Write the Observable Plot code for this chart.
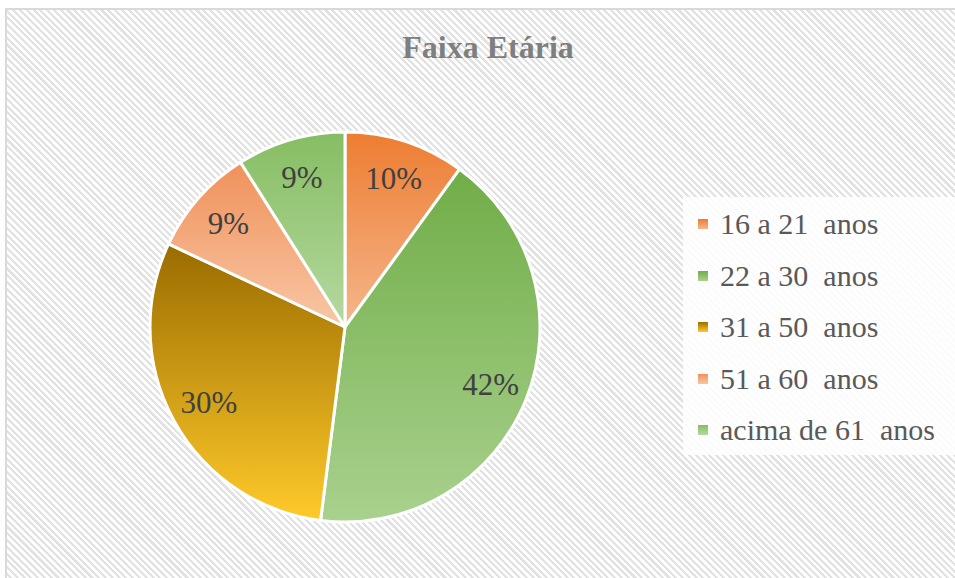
<!DOCTYPE html>
<html><head><meta charset="utf-8">
<script src="https://cdn.jsdelivr.net/npm/d3@7"></script>
<script src="https://cdn.jsdelivr.net/npm/@observablehq/plot@0.6"></script>
<style>
html,body{margin:0;padding:0;background:#fff;overflow:hidden;width:955px;height:578px;}
#frame{position:absolute;left:5px;top:8px;width:960px;height:580px;border:2px solid #d9d9d9;box-sizing:border-box;
  background:repeating-linear-gradient(45deg,#ffffff 0px,#ffffff 2.6px,#e2e2e2 2.6px,#e2e2e2 4.8px);}
#title{position:absolute;left:288px;width:400px;top:31px;text-align:center;font-weight:bold;font-size:32px;
  font-family:'Liberation Serif','Times New Roman',serif;line-height:32px;color:#7f7f7f;}
#chart{position:absolute;left:0;top:0;}
#legend{position:absolute;left:683px;top:197px;width:280px;height:258px;background:rgba(255,255,255,0.85);padding-top:1.5px;box-sizing:border-box;}
.row{height:51.5px;display:flex;align-items:center;font-size:30px;font-family:'Liberation Serif','Times New Roman',serif;color:#595959;white-space:pre;}
.sw{width:10px;height:10px;margin-left:15px;margin-right:12px;flex:none;}
</style></head>
<body>
<div id="frame"></div>
<div id="chart"></div>
<div id="title"></div>
<div id="legend"></div>
<script>
const title = "Faixa Etária";
const categories = ["16 a 21  anos", "22 a 30  anos", "31 a 50  anos", "51 a 60  anos", "acima de 61  anos"];
const values = [10, 42, 30, 9, 9];
const colorsTop = ["#ED7D31", "#70AD47", "#9A6C00", "#F0915A", "#86BD62"];
const colorsBottom = ["#F5B68C", "#A9D18E", "#FFCA2A", "#F8C7A6", "#B5D9A0"];

document.getElementById("title").textContent = title;

const slices = d3.pie().sort(null).startAngle(0).endAngle(2 * Math.PI)(values)
  .map((a, i) => ({...a, name: categories[i], i, mid: (a.startAngle + a.endAngle) / 2}));

function pieMark(index, scales, values, dimensions, context) {
  const cx = scales.x(0), cy = scales.y(0);
  const r = scales.x(1) - scales.x(0);
  const g = d3.create("svg:g");
  const defs = g.append("defs");
  slices.forEach(s => {
    const lg = defs.append("linearGradient").attr("id", "grad" + s.i)
      .attr("x1", 0).attr("y1", 0).attr("x2", 0).attr("y2", 1);
    lg.append("stop").attr("offset", "0%").attr("stop-color", colorsTop[s.i]);
    lg.append("stop").attr("offset", "100%").attr("stop-color", colorsBottom[s.i]);
  });
  const arc = d3.arc().innerRadius(0).outerRadius(r);
  g.append("g").attr("transform", `translate(${cx},${cy})`)
    .selectAll("path").data(slices).join("path")
    .attr("d", arc)
    .attr("fill", d => `url(#grad${d.i})`)
    .attr("stroke", "#ffffff").attr("stroke-width", 3).attr("stroke-linejoin", "round");
  return g.node();
}

const labelR = 0.8;
const chart = Plot.plot({
  width: 955, height: 578,
  marginLeft: 150, marginRight: 415, marginTop: 132, marginBottom: 56,
  x: {domain: [-1, 1], axis: null},
  y: {domain: [-1, 1], axis: null},
  style: {background: "transparent", overflow: "visible"},
  marks: [
    pieMark,
    Plot.text(slices, {
      x: d => labelR * Math.sin(d.mid),
      y: d => labelR * Math.cos(d.mid),
      text: d => d.value + "%",
      fontSize: 31, fontFamily: "Liberation Serif", fill: "#404040"
    })
  ]
});
document.getElementById("chart").appendChild(chart);

const legend = d3.select("#legend");
categories.forEach((c, i) => {
  const row = legend.append("div").attr("class", "row");
  row.append("div").attr("class", "sw")
    .style("background", `linear-gradient(${colorsTop[i]}, ${colorsBottom[i]})`);
  row.append("span").text(c);
});
</script>
</body></html>
